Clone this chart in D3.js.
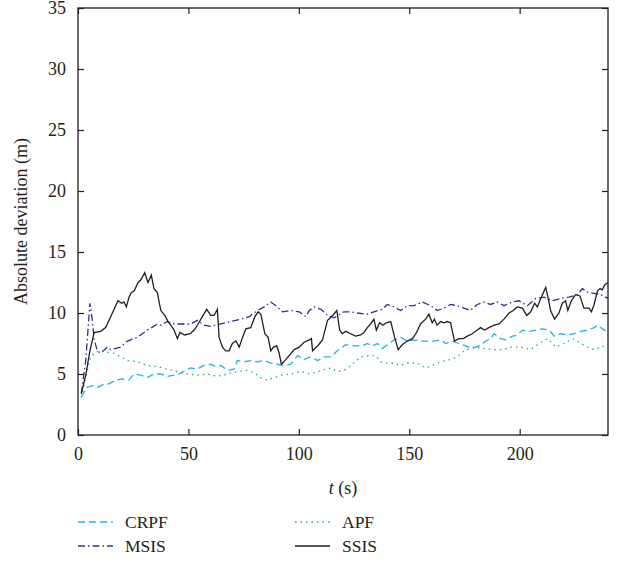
<!DOCTYPE html>
<html>
<head>
<meta charset="utf-8">
<script src="https://cdn.jsdelivr.net/npm/d3@7"></script>
<style>
  body { margin: 0; background: #fff; }
  svg { display: block; }
  text { font-family: "Liberation Serif", "DejaVu Serif", serif; fill: #231f20; }
</style>
</head>
<body>
<svg width="622" height="571"></svg>
<script>
// values, [t (s), absolute deviation (m)]
const crpf = [[1.5,3.1],[2.7,3.5],[4.2,3.9],[6.5,4.05],[8.8,3.9],[11,4.1],[14,4.2],[17,4.5],[20,4.6],[23,4.5],[25.4,5.0],[28.4,4.9],[31.4,4.7],[34.4,5.0],[37.5,5.0],[40.5,4.8],[43.5,4.9],[45.8,5.0],[48.8,5.3],[51,5.5],[54,5.4],[57,5.7],[60,5.8],[62.4,5.6],[64.7,5.7],[67.7,5.3],[70.7,5.4],[72.2,6.1],[75.2,6.0],[78.2,6.1],[81.3,6.0],[84.3,6.1],[87.3,5.9],[90.3,5.8],[93.4,5.7],[96.4,5.8],[99.4,6.5],[102.4,6.2],[105.4,6.4],[108.5,6.1],[111.5,6.4],[114.5,6.4],[117.4,6.9],[121.2,7.4],[125,7.3],[128.8,7.3],[131,7.5],[133.3,7.3],[135.6,7.5],[137.9,7.1],[140.9,7.5],[143.2,7.8],[146.2,8.0],[149.2,7.7],[152.2,7.8],[155.2,7.7],[158.2,7.7],[161.2,7.7],[164.2,7.8],[166.5,7.5],[169.5,7.7],[172.5,7.5],[175.6,7.3],[178.6,7.1],[181.6,7.3],[184.6,7.7],[186.9,7.9],[188.4,8.3],[191.4,7.9],[193.7,7.8],[196.8,8.1],[199,8.2],[201.3,8.6],[204.3,8.5],[207.3,8.6],[210.3,8.7],[213.4,8.6],[215.7,8.1],[218.7,8.3],[221.7,8.2],[224.7,8.3],[227.7,8.5],[230.8,8.6],[233.8,8.8],[235.3,9.0],[238.3,8.6],[240,8.5]];

const msis = [[1.5,3.4],[3.5,6.1],[5.4,10.8],[6.5,9.4],[7.3,7.8],[8.8,6.9],[10.3,6.7],[13.3,7.2],[14.8,7.0],[19.3,7.2],[22.4,7.7],[26.9,8.0],[31.4,8.6],[36,9.1],[37.5,9.0],[40.5,9.3],[43.5,9.1],[46.5,9.1],[51,9.1],[54.1,9.4],[57.1,9.0],[60.1,8.9],[64.7,9.1],[69.2,9.3],[73.7,9.5],[77.5,9.7],[81.3,10.2],[84.3,10.5],[87.3,10.9],[89.6,10.6],[92.6,10.1],[96.4,10.2],[100.2,10.1],[103.2,9.7],[104.7,10.2],[107,10.5],[110,10.3],[113,9.8],[116,9.6],[120.4,10.1],[123.5,10.1],[126.5,10.0],[131,9.9],[134,10.1],[137.8,10.3],[140.1,10.7],[143.1,10.5],[146.1,10.2],[149.1,10.6],[152.1,10.6],[155.9,10.9],[159.7,10.6],[162.7,10.2],[165.7,10.4],[168.7,10.7],[171.7,10.6],[174.7,10.4],[177.7,10.2],[180.8,10.7],[183.8,10.9],[186.8,10.7],[189.8,10.9],[192.9,10.6],[196.6,10.9],[199.7,11.0],[203.5,10.6],[207.3,11.2],[211,11.3],[214.8,11.0],[218.6,11.2],[222.3,11.3],[226.1,11.5],[228.4,12.0],[230.7,11.7],[233.7,11.6],[236.7,11.5],[240,11.2]];

const apf = [[1.5,3.1],[3.5,4.7],[5.7,6.4],[8,6.8],[10.3,6.9],[13.3,6.8],[16.3,6.7],[19.3,6.4],[22.4,6.1],[26.9,6.0],[31.4,5.7],[36,5.6],[40.5,5.4],[45,5.2],[49.5,5.0],[54.1,4.9],[58.6,5.0],[63.1,4.8],[67.7,5.0],[72.2,5.2],[76.7,5.3],[79.8,5.1],[82.8,4.7],[85.8,4.5],[88.8,4.7],[91.8,4.9],[96.4,5.0],[100.9,5.2],[105.4,5.0],[110,5.3],[114.5,5.5],[117.4,5.2],[120.4,5.3],[124.2,5.8],[128,6.4],[131.8,6.5],[134.8,6.5],[137.1,6.0],[140.1,5.9],[143.1,5.9],[146.1,5.7],[149.1,5.9],[153.6,5.9],[157.4,5.5],[160.4,5.7],[164.2,6.0],[168.7,6.2],[171.7,6.4],[174.8,6.9],[179.3,7.2],[183.8,7.1],[188.4,7.0],[192.2,7.0],[196,7.2],[200.5,7.2],[205,7.0],[208.8,7.5],[212.6,7.9],[216.4,7.2],[220.1,7.5],[223.9,7.9],[226.9,7.6],[230.7,7.2],[233.7,7.0],[236.7,7.2],[240,7.4]];

const ssis = [[1.5,3.4],[3.5,4.9],[5.4,6.9],[7.3,8.4],[10.3,8.5],[12.5,8.8],[14.8,9.7],[18.1,11.0],[19.8,10.8],[20.8,10.9],[21.9,10.5],[23.1,11.3],[24.2,11.7],[25.4,11.8],[27.2,12.5],[28.4,12.7],[30.2,13.3],[31.7,12.5],[33.2,13.1],[34.4,12.0],[35.9,11.7],[37.5,10.2],[39.3,9.8],[40.8,9.3],[42,9.0],[43.5,8.6],[45,7.9],[46.2,8.4],[48.3,8.2],[50.8,8.3],[52.6,8.6],[54.4,9.1],[56.3,9.7],[58.3,10.3],[60.1,9.8],[61.6,9.8],[63.1,10.3],[63.9,8.0],[65.4,7.2],[66.9,6.9],[68.4,6.9],[69.9,7.5],[71.5,7.7],[73,7.2],[74.5,8.0],[76,8.7],[78.2,8.8],[80.1,9.7],[81.6,10.1],[82.8,9.9],[84.6,8.3],[86.1,8.0],[87.3,6.9],[88.5,7.2],[90,7.3],[91.1,6.7],[92.1,5.8],[93.7,6.1],[95.6,6.5],[97.9,7.0],[100.2,7.2],[102.4,7.6],[104.7,7.8],[105.7,7.9],[106.2,6.9],[108.5,7.3],[110.7,7.8],[113,9.4],[115.3,9.8],[117.2,10.2],[118.5,8.6],[119.7,8.3],[121.2,8.5],[123.5,8.3],[125.7,8.1],[128,8.2],[129.5,8.4],[131,8.8],[132.5,9.1],[134,9.5],[135.1,8.6],[136.6,9.2],[138.1,9.0],[139.6,9.2],[141.6,9.3],[143.4,8.0],[145,7.0],[146.8,7.4],[149.1,7.7],[151.4,7.9],[153.3,8.4],[155.1,9.1],[157.4,9.5],[158.9,9.9],[160.4,9.2],[161.4,9.5],[162.6,9.0],[164.2,9.3],[165.7,9.2],[167.2,9.3],[168.7,9.2],[170.5,7.7],[172.5,7.9],[174.5,7.9],[176.3,8.1],[178.5,8.3],[180.8,8.6],[182.3,8.8],[184.1,8.6],[186.1,8.8],[188.4,9.0],[190.6,9.1],[192.9,9.5],[195.2,10.0],[197.1,10.2],[198.9,10.5],[201.2,10.4],[203.2,9.8],[205,10.1],[206.8,10.8],[208,10.5],[209.8,11.3],[211.8,12.1],[212.8,11.3],[214,10.2],[215.8,9.5],[217.8,10.0],[219.3,10.8],[220.8,11.0],[221.8,10.2],[223.4,11.0],[225.3,11.5],[227.3,11.4],[229.1,10.4],[231.4,10.4],[232.5,10.1],[233.7,10.7],[235.2,11.8],[236.4,12.0],[237.4,11.9],[238.5,12.3],[240,12.5]];

const xTicks = [0, 50, 100, 150, 200];
const yTicks = [0, 5, 10, 15, 20, 25, 30, 35];

const series = [
  { name: 'CRPF', data: crpf, color: '#1fb4e8', dash: '7,4' },
  { name: 'MSIS', data: msis, color: '#2e3192', dash: '7,3,1.5,3' },
  { name: 'APF', data: apf, color: '#1dba5c', dash: '1.5,4' },
  { name: 'SSIS', data: ssis, color: '#231f20', dash: null }
];

const margin = { top: 8, left: 78, right: 14, bottom: 136 };
const svg = d3.select('svg');
const W = 622 - margin.left - margin.right;
const H = 571 - margin.top - margin.bottom;

const x = d3.scaleLinear().domain([0, 240]).range([0, W]);
const y = d3.scaleLinear().domain([0, 35]).range([H, 0]);

const g = svg.append('g')
  .attr('transform', `translate(${margin.left},${margin.top})`);

const line = d3.line()
  .x(d => x(d[0]))
  .y(d => y(d[1]));

g.selectAll('.series')
  .data(series)
  .enter()
  .append('path')
  .attr('class', 'series')
  .attr('d', d => line(d.data))
  .attr('fill', 'none')
  .attr('stroke', d => d.color)
  .attr('stroke-width', 1.3)
  .attr('stroke-dasharray', d => d.dash);

// box with inward ticks on all four sides
function styleAxis(sel) {
  sel.select('.domain').remove();
  sel.selectAll('.tick line').attr('stroke', '#231f20').attr('stroke-width', 1.2);
  sel.selectAll('.tick text')
    .style('font-size', '18px')
    .style('font-family', '"Liberation Serif", serif')
    .attr('fill', '#231f20');
}

g.append('g')
  .attr('transform', `translate(0,${H})`)
  .call(d3.axisBottom(x).tickValues(xTicks).tickSize(-6).tickPadding(12))
  .call(styleAxis);

g.append('g')
  .call(d3.axisTop(x).tickValues(xTicks).tickSize(-6).tickFormat(''))
  .call(styleAxis);

g.append('g')
  .call(d3.axisLeft(y).tickValues(yTicks).tickSize(-6).tickPadding(12))
  .call(styleAxis);

g.append('g')
  .attr('transform', `translate(${W},0)`)
  .call(d3.axisRight(y).tickValues(yTicks).tickSize(-6).tickFormat(''))
  .call(styleAxis);

g.append('rect')
  .attr('width', W)
  .attr('height', H)
  .attr('fill', 'none')
  .attr('stroke', '#231f20')
  .attr('stroke-width', 1.3);

// axis titles
const xt = svg.append('text')
  .attr('x', margin.left + W / 2)
  .attr('y', 494)
  .attr('text-anchor', 'middle')
  .style('font-size', '18px');
xt.append('tspan').style('font-style', 'italic').text('t');
xt.append('tspan').text(' (s)');

svg.append('text')
  .attr('transform', `translate(27,${margin.top + H / 2}) rotate(-90)`)
  .attr('text-anchor', 'middle')
  .style('font-size', '18px')
  .text('Absolute deviation (m)');

// legend, two columns
const legendPos = [[78, 522], [78, 546], [295, 522], [295, 546]];
const legendOrder = ['CRPF', 'MSIS', 'APF', 'SSIS'];
const legend = svg.append('g').attr('class', 'legend');
legendOrder.forEach((name, i) => {
  const s = series.find(d => d.name === name);
  const [lx, ly] = legendPos[i];
  legend.append('line')
    .attr('x1', lx).attr('x2', lx + 35)
    .attr('y1', ly).attr('y2', ly)
    .attr('stroke', s.color)
    .attr('stroke-width', 1.3)
    .attr('stroke-dasharray', s.dash);
  legend.append('text')
    .attr('x', lx + 47)
    .attr('y', ly + 6)
    .style('font-size', '17.5px')
    .text(name);
});
</script>
</body>
</html>
